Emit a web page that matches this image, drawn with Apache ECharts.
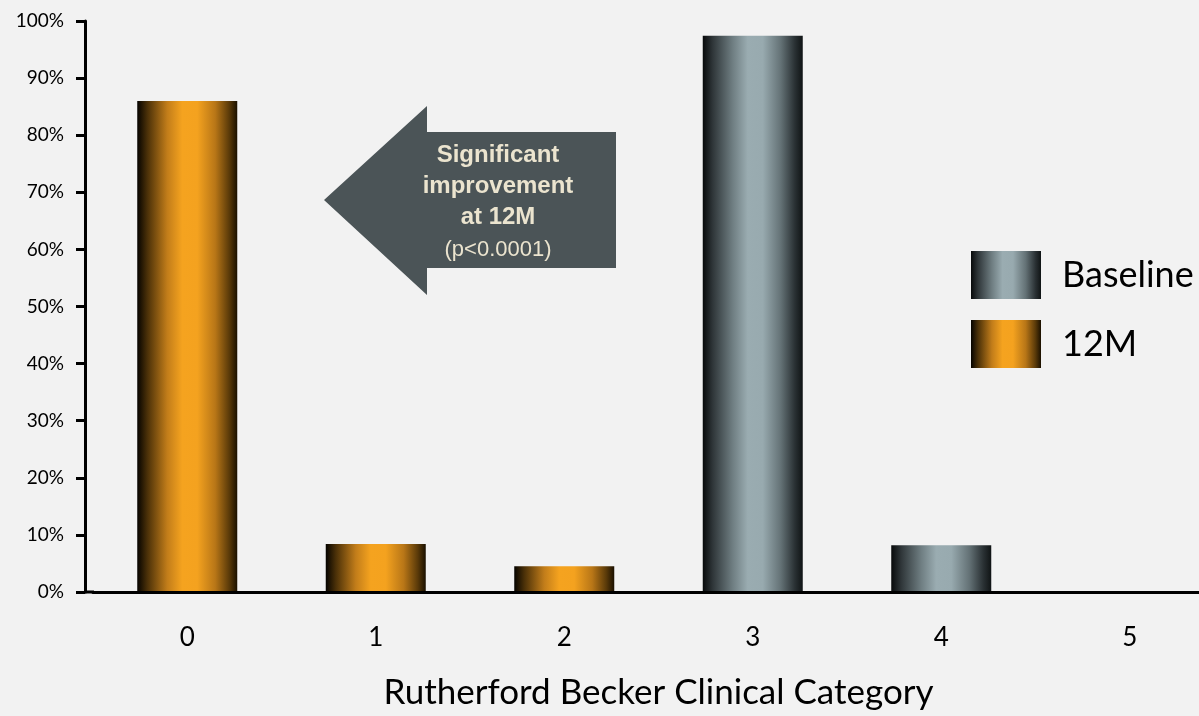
<!DOCTYPE html>
<html>
<head>
<meta charset="utf-8">
<title>Rutherford Becker Clinical Category</title>
<script src="https://cdn.jsdelivr.net/npm/echarts@6/dist/echarts.min.js"></script>
<style>
  html, body { margin: 0; padding: 0; background: #f2f2f2; }
  #chart { width: 1199px; height: 716px; }
</style>
</head>
<body>
<div id="chart"></div>
<script>
// Rutherford Becker categories on the x axis
const categories = ['0', '1', '2', '3', '4', '5'];
// Share of patients (%) per category
const baselineValues = [null, null, null, 97.4, 8.2, null];
const month12Values = [86, 8.4, 4.5, null, null, null];
// Y axis bounds and step (%)
const yMin = 0, yMax = 100, yStep = 10;
const seriesNames = ['Baseline', '12M'];
const xTitle = 'Rutherford Becker Clinical Category';
const calloutLines = ['Significant', 'improvement', 'at 12M', '(p<0.0001)'];

const FONT = 'Lato, "Open Sans", sans-serif';
const CALLOUT_FONT = '"Liberation Sans", Arial, sans-serif';

function hGrad(stops) {
  return {
    type: 'linear', x: 0, y: 0, x2: 1, y2: 0,
    colorStops: stops.map(([offset, color]) => ({ offset, color }))
  };
}
const greyFill = hGrad([
  [0, '#080a0b'], [0.1, '#2f3639'], [0.3, '#6f7e82'], [0.45, '#9aacb1'],
  [0.6, '#98aaaf'], [0.78, '#647276'], [0.92, '#2a3134'], [1, '#101415']
]);
const orangeFill = hGrad([
  [0, '#050300'], [0.1, '#4a3008'], [0.3, '#c27d1a'], [0.45, '#f5a31f'],
  [0.6, '#f4a21f'], [0.78, '#b87617'], [0.92, '#5a3a09'], [1, '#1a1000']
]);

const chart = echarts.init(document.getElementById('chart'));

const calloutText = [
  '{b|' + calloutLines[0] + '}',
  '{b|' + calloutLines[1] + '}',
  '{b|' + calloutLines[2] + '}',
  '{r|' + calloutLines[3] + '}'
].join('\n');

chart.setOption({
  backgroundColor: '#f2f2f2',
  animation: false,
  grid: {
    left: 93, top: 21, width: 1131, bottom: 124,
    outerBoundsMode: 'none', containLabel: false
  },
  legend: {
    orient: 'vertical',
    left: 966, top: 246,
    itemWidth: 70, itemHeight: 48, itemGap: 21,
    icon: 'rect',
    data: seriesNames,
    textStyle: { fontFamily: FONT, fontSize: 36, color: '#000', padding: [0, 0, 0, 16] }
  },
  xAxis: {
    type: 'category',
    data: categories,
    z: 5,
    boundaryGap: true,
    axisLine: { lineStyle: { color: '#000', width: 3 } },
    axisTick: { show: false },
    axisLabel: { fontFamily: FONT, fontSize: 26, color: '#000', margin: 33 },
    name: xTitle,
    nameLocation: 'middle',
    nameGap: 83,
    nameTextStyle: { fontFamily: FONT, fontSize: 35, color: '#000' },
    splitLine: { show: false }
  },
  yAxis: {
    type: 'value',
    min: yMin, max: yMax, interval: yStep,
    offset: 8,
    z: 5,
    axisLine: { show: true, lineStyle: { color: '#000', width: 3 } },
    axisTick: { show: true, length: 9, lineStyle: { color: '#000', width: 3 } },
    axisLabel: {
      fontFamily: FONT, fontSize: 19, color: '#000', margin: 21,
      formatter: '{value}%'
    },
    splitLine: { show: false }
  },
  series: [
    {
      name: seriesNames[0],
      type: 'bar',
      data: baselineValues,
      barWidth: 100,
      barGap: '-100%',
      itemStyle: { color: greyFill }
    },
    {
      name: seriesNames[1],
      type: 'bar',
      data: month12Values,
      barWidth: 100,
      barGap: '-100%',
      itemStyle: { color: orangeFill }
    }
  ],
  graphic: [
    // short stretch of x axis line between the offset y axis and the grid
    {
      type: 'line', z: 10,
      shape: { x1: 84, y1: 592, x2: 94, y2: 592 },
      style: { stroke: '#000', lineWidth: 3 }
    },
    // left-pointing callout arrow
    {
      type: 'polygon', z: 10,
      shape: {
        points: [[324, 200], [427, 106], [427, 132], [616, 132],
                 [616, 268], [427, 268], [427, 295]]
      },
      style: { fill: '#4b5457' }
    },
    {
      type: 'text', z: 11,
      x: 498, y: 203,
      style: {
        text: calloutText,
        align: 'center', verticalAlign: 'middle',
        fill: '#ebe4cf',
        rich: {
          b: { fontFamily: CALLOUT_FONT, fontWeight: 'bold', fontSize: 24, lineHeight: 31, fill: '#ebe4cf', align: 'center' },
          r: { fontFamily: CALLOUT_FONT, fontSize: 22, lineHeight: 33, fill: '#ebe4cf', align: 'center' }
        }
      }
    }
  ]
});
</script>
</body>
</html>
